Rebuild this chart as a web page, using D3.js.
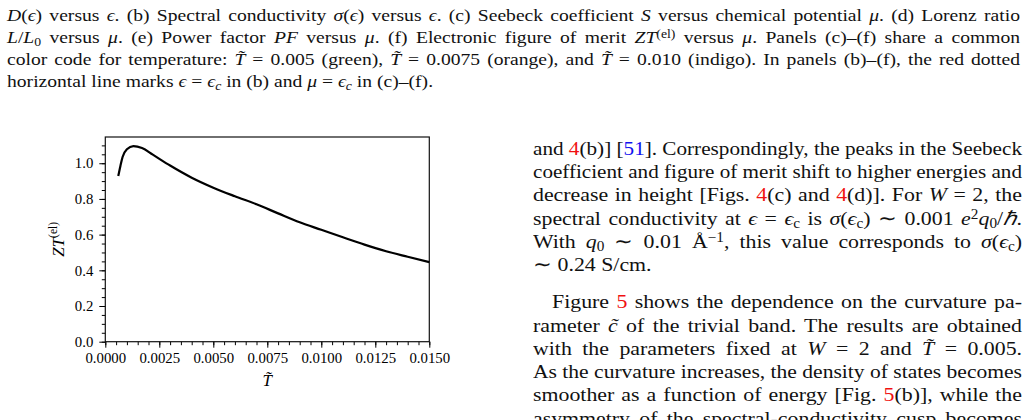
<!DOCTYPE html>
<html>
<head>
<meta charset="utf-8">
<script src="https://cdn.jsdelivr.net/npm/d3@7"></script>
<style>
  body { margin: 0; width: 1028px; height: 420px; overflow: hidden; background: #fff; position: relative;
         font-family: "Liberation Serif", "Times New Roman", serif; color: #111; }
  .ln { position: absolute; white-space: nowrap; transform-origin: 0 0; }
  .r { color: #f01010; }
  .b { color: #1010f0; }
  sub, sup { font-size: 70%; line-height: 0; }
  sup { vertical-align: 0.45em; }
  sub { vertical-align: -0.25em; }
</style>
</head>
<body>
<script>
// ZT(el)
const temps = [0.0006, 0.0007, 0.0008, 0.0010, 0.0013, 0.0017, 0.0022, 0.0030, 0.0040, 0.0050,
               0.0060, 0.0070, 0.0080, 0.0090, 0.0100, 0.0110, 0.0120, 0.0130, 0.0140, 0.0150];
const ztValues = [0.928, 0.985, 1.035, 1.078, 1.096, 1.085, 1.048, 0.987, 0.919, 0.863,
                  0.815, 0.770, 0.719, 0.669, 0.627, 0.585, 0.544, 0.507, 0.476, 0.446];

const xTicks = [0, 0.0025, 0.005, 0.0075, 0.01, 0.0125, 0.015];
const yTicks = [0, 0.2, 0.4, 0.6, 0.8, 1.0];

// page text around the figure
const captionLines = [
  ['<i>D</i>(<i>ϵ</i>) versus <i>ϵ</i>. (b) Spectral conductivity <i>σ</i>(<i>ϵ</i>) versus <i>ϵ</i>. (c) Seebeck coefficient <i>S</i> versus chemical potential <i>μ</i>. (d) Lorenz ratio', true],
  ['<i>L</i>/<i>L</i><sub>0</sub> versus <i>μ</i>. (e) Power factor <i>PF</i> versus <i>μ</i>. (f) Electronic figure of merit <i>ZT</i><sup>(el)</sup> versus <i>μ</i>. Panels (c)–(f) share a common', true],
  ['color code for temperature: <i>T̃</i> = 0.005 (green), <i>T̃</i> = 0.0075 (orange), and <i>T̃</i> = 0.010 (indigo). In panels (b)–(f), the red dotted', true],
  ['horizontal line marks <i>ϵ</i> = <i>ϵ<sub>c</sub></i> in (b) and <i>μ</i> = <i>ϵ<sub>c</sub></i> in (c)–(f).', false]
];

const bodyPara1 = [
  ['and <span class="r">4</span>(b)] [<span class="b">51</span>]. Correspondingly, the peaks in the Seebeck', true],
  ['coefficient and figure of merit shift to higher energies and', true],
  ['decrease in height [Figs. <span class="r">4</span>(c) and <span class="r">4</span>(d)]. For <i>W</i> = 2, the', true],
  ['spectral conductivity at <i>ϵ</i> = <i>ϵ</i><sub>c</sub> is <i>σ</i>(<i>ϵ</i><sub>c</sub>) ∼ 0.001 <i>e</i><sup>2</sup><i>q</i><sub>0</sub>/<i>ℏ</i>.', true],
  ['With <i>q</i><sub>0</sub> ∼ 0.01 Å<sup>−1</sup>, this value corresponds to <i>σ</i>(<i>ϵ</i><sub>c</sub>)', true],
  ['∼ 0.24 S/cm.', false]
];

const bodyPara2 = [
  ['Figure <span class="r">5</span> shows the dependence on the curvature pa-', true],
  ['rameter <i>c̃</i> of the trivial band. The results are obtained', true],
  ['with the parameters fixed at <i>W</i> = 2 and <i>T̃</i> = 0.005.', true],
  ['As the curvature increases, the density of states becomes', true],
  ['smoother as a function of energy [Fig. <span class="r">5</span>(b)], while the', true],
  ['asymmetry of the spectral-conductivity cusp becomes', true]
];

// the serif font here is narrower than the page's font, so widen glyphs a bit
const widen = 1.12;

// place one line of text on a baseline, stretching word spaces to fill the width
function placeLine(html, left, baseline, width, size, justify) {
  const div = d3.select('body').append('div')
    .attr('class', 'ln')
    .style('left', left + 'px')
    .style('top', '0px')
    .style('font-size', size + 'px')
    .html(html);
  const mark = div.append('span')
    .style('display', 'inline-block')
    .style('width', '0px')
    .style('height', '0px');
  const node = div.node();
  const off = mark.node().getBoundingClientRect().top - node.getBoundingClientRect().top;
  const natural = node.getBoundingClientRect().width;
  let k = widen;
  if (justify) {
    k = Math.min(widen, width / natural);
    const spaces = (node.textContent.match(/ /g) || []).length;
    if (spaces) div.style('word-spacing', ((width / k - natural) / spaces) + 'px');
  }
  div.style('top', (baseline - off) + 'px')
    .style('transform', `scaleX(${k})`);
}

captionLines.forEach(([h, j], i) => placeLine(h, 7.3, 20.6 + i * 22.2, 1013, 17.5, j));
bodyPara1.forEach(([h, j], i) => placeLine(h, 532.7, 155 + i * 23.2, 489, 19.5, j));
bodyPara2.forEach(([h, j], i) => {
  const indent = i === 0 ? 19 : 0;
  placeLine(h, 532.7 + indent, 308.3 + i * 23.25, 489 - indent, 19.5, j);
});
// top of the next caption line, cut by the bottom edge
placeLine('<i>ZT</i><sup>(el)</sup>', 425, 436, 0, 17.5, false);

// chart
const svg = d3.select('body').append('svg')
  .attr('width', 1028)
  .attr('height', 420)
  .style('position', 'absolute')
  .style('left', '0px')
  .style('top', '0px');

const x = d3.scaleLinear().domain([0, 0.015]).range([105.3, 429.3]);
const y = d3.scaleLinear().domain([0, 1.147]).range([341.7, 137]);

const tickFont = g => g.selectAll('text')
  .attr('font-family', '"Liberation Serif", serif')
  .attr('font-size', 14.8)
  .attr('fill', '#000');

// minor ticks
svg.append('g')
  .attr('transform', `translate(0,${y(0)})`)
  .call(d3.axisBottom(x).tickValues(d3.range(31).map(i => i * 0.0005)).tickSize(3.5).tickFormat(''))
  .call(g => g.select('.domain').remove());
svg.append('g')
  .attr('transform', `translate(${x(0)},0)`)
  .call(d3.axisLeft(y).tickValues(d3.range(23).map(i => i * 0.05)).tickSize(3.5).tickFormat(''))
  .call(g => g.select('.domain').remove());

// major ticks
svg.append('g')
  .attr('transform', `translate(0,${y(0)})`)
  .call(d3.axisBottom(x).tickValues(xTicks).tickSize(6).tickPadding(5).tickFormat(d3.format('.4f')))
  .call(g => g.select('.domain').remove())
  .call(tickFont);
svg.append('g')
  .attr('transform', `translate(${x(0)},0)`)
  .call(d3.axisLeft(y).tickValues(yTicks).tickSize(6).tickPadding(6).tickFormat(d3.format('.1f')))
  .call(g => g.select('.domain').remove())
  .call(tickFont);

svg.selectAll('.tick line').attr('stroke', '#000').attr('stroke-width', 1);

// frame
svg.append('rect')
  .attr('x', x(0))
  .attr('y', y(1.147))
  .attr('width', x(0.015) - x(0))
  .attr('height', y(0) - y(1.147))
  .attr('fill', 'none')
  .attr('stroke', '#111')
  .attr('stroke-width', 1.2);

// curve
const line = d3.line()
  .x((d, i) => x(temps[i]))
  .y(d => y(d))
  .curve(d3.curveMonotoneX);

svg.append('path')
  .datum(ztValues)
  .attr('fill', 'none')
  .attr('stroke', '#000')
  .attr('stroke-width', 2.2)
  .attr('stroke-linejoin', 'round')
  .attr('d', line);

// axis labels
const ylab = svg.append('text')
  .attr('transform', `translate(64,${(y(0) + y(1.147)) / 2}) rotate(-90)`)
  .attr('text-anchor', 'middle')
  .attr('font-family', '"Liberation Serif", serif')
  .attr('font-size', 17)
  .attr('fill', '#000');
ylab.append('tspan').attr('font-style', 'italic').text('ZT');
ylab.append('tspan').attr('font-size', 11.5).attr('dy', -7).text('(el)');

svg.append('text')
  .attr('x', (x(0) + x(0.015)) / 2)
  .attr('y', 385.5)
  .attr('text-anchor', 'middle')
  .attr('font-family', '"Liberation Serif", serif')
  .attr('font-style', 'italic')
  .attr('font-size', 17)
  .attr('fill', '#000')
  .text('T̃');
</script>
</body>
</html>
